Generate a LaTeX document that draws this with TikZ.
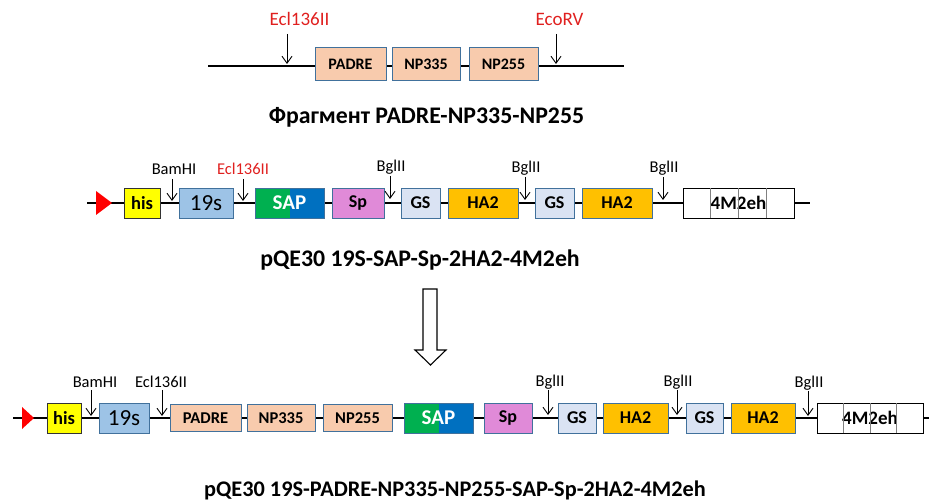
\documentclass[tikz,border=0pt]{standalone}
\usepackage{fontspec}
\setmainfont{Carlito}
\usetikzlibrary{arrows.meta,calc}

\definecolor{peach}{HTML}{F8CBAD}
\definecolor{segline}{HTML}{41719C}
\definecolor{hisyellow}{HTML}{FFFF00}
\definecolor{ssblue}{HTML}{9DC3E6}
\definecolor{sapgreen}{HTML}{00B050}
\definecolor{sapblue}{HTML}{0070C0}
\definecolor{sppink}{HTML}{E08AD8}
\definecolor{gsblue}{HTML}{DAE3F3}
\definecolor{haorange}{HTML}{FFC000}
\definecolor{sitered}{HTML}{E0201F}

\tikzset{
	seg/.style={draw=segline, line width=0.9pt, minimum height=30pt, inner sep=0pt,
		font=\bfseries\fontsize{18}{18}\selectfont},
	frag/.style={seg, fill=peach, minimum height=33pt, font=\bfseries\fontsize{16}{16}\selectfont},
	fragB/.style={seg, fill=peach, minimum height=27pt, font=\bfseries\fontsize{16.5}{16.5}\selectfont},
	hisbox/.style={seg, draw=black!80, fill=hisyellow, font=\bfseries\fontsize{18.5}{18.5}\selectfont},
	ssbox/.style={seg, fill=ssblue, font=\fontsize{23}{23}\selectfont},
	sapbox/.style={seg, fill=sapblue, text=white, font=\bfseries\fontsize{21}{21}\selectfont,
		path picture={\fill[sapgreen] (path picture bounding box.south west) rectangle (path picture bounding box.north);}},
	spbox/.style={seg, fill=sppink},
	gsbox/.style={seg, fill=gsblue},
	habox/.style={seg, fill=haorange},
	mbox/.style={seg, draw=black, fill=white, font=\bfseries\fontsize{19}{19}\selectfont},
	backbone/.style={line width=2.4pt},
	site/.style={-{Straight Barb[length=7pt,width=10pt]}, line width=0.9pt},
	sitelbl/.style={font=\fontsize{16.5}{16.5}\selectfont, inner sep=0pt},
	redlbl/.style={font=\fontsize{19}{19}\selectfont, inner sep=0pt, text=sitered},
	title/.style={font=\bfseries\fontsize{23.8}{23.8}\selectfont, inner sep=0pt},
	promoter/.style={fill=red},
}

\begin{document}
\begin{tikzpicture}[x=1pt, y=-1pt]

	\useasboundingbox (0,0) rectangle (929,502);

	% ---------- fragment ----------
	\coordinate (f1l) at (208,66);
	\coordinate (f1r) at (624,66);
	\draw[backbone] (f1l) -- (f1r);

	\node[frag, minimum width=71pt] (padre1) at (350.5,64) {PADRE};
	\node[frag, minimum width=68pt] (np335a) at (426,64) {NP335};
	\node[frag, minimum width=69pt] (np255a) at (503.5,64) {NP255};

	\node[redlbl] (ecl1) at (299.5,19) {Ecl136II};
	\node[redlbl] (ecorv) at (559.5,19) {EcoRV};
	\coordinate (ecl1s) at (287,34);
	\coordinate (ecl1e) at (287,64);
	\coordinate (ecorvs) at (556,34);
	\coordinate (ecorve) at (556,64);
	\draw[site] (ecl1s) -- (ecl1e);
	\draw[site] (ecorvs) -- (ecorve);

	\node[title] (t1) at (426.5,117) {Фрагмент PADRE-NP335-NP255};

	% ---------- pQE30 19S-SAP-Sp-2HA2-4M2eh ----------
	\coordinate (v1l) at (87,203);
	\coordinate (v1r) at (810,203);
	\draw[backbone] (v1l) -- (v1r);

	\coordinate (p1a) at (96,191);
	\coordinate (p1b) at (112,203);
	\coordinate (p1c) at (96,215);
	\fill[promoter] (p1a) -- (p1b) -- (p1c) -- cycle;

	\node[hisbox, minimum width=36pt] (his1) at (142,203) {his};
	\node[ssbox, minimum width=54pt] (ss1) at (206,203) {19s};
	\node[sapbox, minimum width=69pt] (sap1) at (289.5,203) {SAP};
	\node[spbox, minimum width=52pt] (sp1) at (358,203) {Sp};
	\node[gsbox, minimum width=39pt] (gs1) at (420.5,203) {GS};
	\node[habox, minimum width=70pt] (ha1) at (483,203) {HA2};
	\node[gsbox, minimum width=39pt] (gs2) at (554.5,203) {GS};
	\node[habox, minimum width=70pt] (ha2) at (617,203) {HA2};
	\node[mbox, minimum width=111pt] (m4a) at (738.5,203) {4M2eh};
	\foreach \f in {0.25,0.5,0.75}
		\draw[gray, line width=0.6pt] ($(m4a.south west)!\f!(m4a.south east)$) -- ($(m4a.north west)!\f!(m4a.north east)$);

	\node[sitelbl] (bam1) at (174,169) {BamHI};
	\node[sitelbl, text=sitered] (ecl2) at (243,169) {Ecl136II};
	\node[sitelbl] (bgl1) at (391,167) {BglII};
	\node[sitelbl] (bgl2) at (526,168) {BglII};
	\node[sitelbl] (bgl3) at (664,168) {BglII};
	\coordinate (bam1s) at (172,179);
	\coordinate (bam1e) at (172,201);
	\coordinate (ecl2s) at (243,179);
	\coordinate (ecl2e) at (243,201);
	\coordinate (bgl1s) at (390,176);
	\coordinate (bgl1e) at (390,199);
	\coordinate (bgl2s) at (525,177);
	\coordinate (bgl2e) at (525,200);
	\coordinate (bgl3s) at (663,177);
	\coordinate (bgl3e) at (663,200);
	\foreach \s in {bam1,ecl2,bgl1,bgl2,bgl3}
		\draw[site] (\s s) -- (\s e);

	\node[title] (t2) at (420,260) {pQE30 19S-SAP-Sp-2HA2-4M2eh};

	% hollow arrow
	\coordinate (h1) at (423,289);
	\coordinate (h2) at (437,289);
	\coordinate (h3) at (437,350);
	\coordinate (h4) at (446,350);
	\coordinate (h5) at (430.5,365);
	\coordinate (h6) at (415,350);
	\coordinate (h7) at (423,350);
	\draw[line width=1.1pt, line join=miter] (h1) -- (h2) -- (h3) -- (h4) -- (h5) -- (h6) -- (h7) -- cycle;

	% ---------- pQE30 19S-PADRE-NP335-NP255-SAP-Sp-2HA2-4M2eh ----------
	\coordinate (v2l) at (13,418);
	\coordinate (v2r) at (929,418);
	\draw[backbone] (v2l) -- (v2r);

	\coordinate (p2a) at (22,407);
	\coordinate (p2b) at (34,418);
	\coordinate (p2c) at (22,429);
	\fill[promoter] (p2a) -- (p2b) -- (p2c) -- cycle;

	\node[hisbox, minimum width=34pt] (his2) at (64,418) {his};
	\node[ssbox, minimum width=50pt] (ss2) at (124,418) {19s};
	\node[fragB, minimum width=71pt] (padre2) at (205.5,418) {PADRE};
	\node[fragB, minimum width=68pt] (np335b) at (281,418) {NP335};
	\node[fragB, minimum width=69pt] (np255b) at (357.5,418) {NP255};
	\node[sapbox, minimum width=69pt] (sap2) at (438.5,418) {SAP};
	\node[spbox, minimum width=48pt] (sp2) at (508,418) {Sp};
	\node[gsbox, minimum width=38pt] (gs3) at (577,418) {GS};
	\node[habox, minimum width=65pt] (ha3) at (635.5,418) {HA2};
	\node[gsbox, minimum width=37pt] (gs4) at (704.5,418) {GS};
	\node[habox, minimum width=64pt] (ha4) at (763,418) {HA2};
	\node[mbox, minimum width=106pt] (m4b) at (870,418) {4M2eh};
	\foreach \f in {0.25,0.5,0.75}
		\draw[gray, line width=0.6pt] ($(m4b.south west)!\f!(m4b.south east)$) -- ($(m4b.north west)!\f!(m4b.north east)$);

	\node[sitelbl] (bam2) at (95,382) {BamHI};
	\node[sitelbl] (ecl3) at (161,382) {Ecl136II};
	\node[sitelbl] (bgl4) at (550,382) {BglII};
	\node[sitelbl] (bgl5) at (678,382) {BglII};
	\node[sitelbl] (bgl6) at (809,383) {BglII};
	\coordinate (bam2s) at (91,390);
	\coordinate (bam2e) at (91,416);
	\coordinate (ecl3s) at (162,390);
	\coordinate (ecl3e) at (162,416);
	\coordinate (bgl4s) at (548,390);
	\coordinate (bgl4e) at (548,415);
	\coordinate (bgl5s) at (677,390);
	\coordinate (bgl5e) at (677,415);
	\coordinate (bgl6s) at (808,391);
	\coordinate (bgl6e) at (808,416);
	\foreach \s in {bam2,ecl3,bgl4,bgl5,bgl6}
		\draw[site] (\s s) -- (\s e);

	\node[title, font=\bfseries\fontsize{22.3}{22.3}\selectfont] (t3) at (455,490) {pQE30 19S-PADRE-NP335-NP255-SAP-Sp-2HA2-4M2eh};

\end{tikzpicture}
\end{document}
